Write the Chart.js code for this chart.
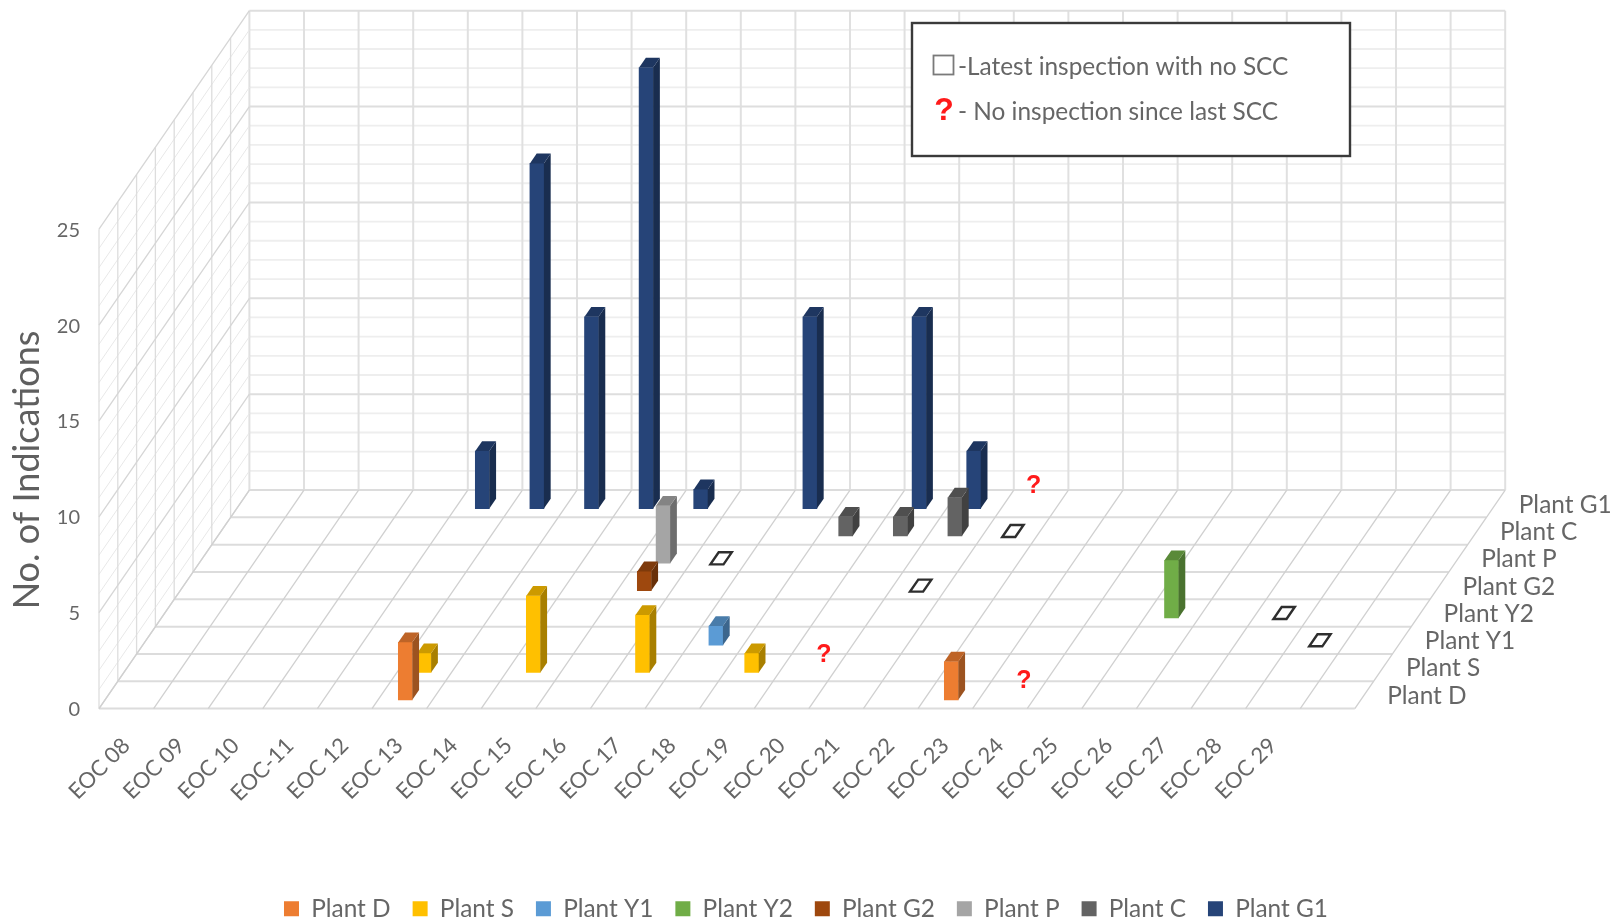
<!DOCTYPE html>
<html>
<head>
<meta charset="utf-8">
<title>Indications by plant and EOC</title>
<script src="https://cdn.jsdelivr.net/npm/chart.js@4"></script>
<style>
  html, body { margin: 0; padding: 0; background: #fff; }
  canvas { display: block; }
</style>
</head>
<body>
<canvas id="chart" width="1612" height="921"></canvas>
<script>
// Refuelling outages along the width of the chart; the last column stays unlabelled.
const categories = ['EOC 08','EOC 09','EOC 10','EOC-11','EOC 12','EOC 13','EOC 14','EOC 15','EOC 16','EOC 17','EOC 18','EOC 19','EOC 20','EOC 21','EOC 22','EOC 23','EOC 24','EOC 25','EOC 26','EOC 27','EOC 28','EOC 29',''];
const plantNames = ['Plant D','Plant S','Plant Y1','Plant Y2','Plant G2','Plant P','Plant C','Plant G1'];
const plantColors = ['#ED7D31','#FFC000','#5B9BD5','#70AD47','#9E480E','#A5A5A5','#636363','#264478'];

// Indications per outage, one array per plant.
const plantD  = [0,0,0,0,0,3,0,0,0,0,0,0,0,0,0,2,0,0,0,0,0,0,0];
const plantS  = [0,0,0,0,0,1,0,4,0,3,0,1,0,0,0,0,0,0,0,0,0,0,0];
const plantY1 = [0,0,0,0,0,0,0,0,0,0,1,0,0,0,0,0,0,0,0,0,0,0,0];
const plantY2 = [0,0,0,0,0,0,0,0,0,0,0,0,0,0,0,0,0,0,3,0,0,0,0];
const plantG2 = [0,0,0,0,0,0,0,0,1,0,0,0,0,0,0,0,0,0,0,0,0,0,0];
const plantP  = [0,0,0,0,0,0,0,0,3,0,0,0,0,0,0,0,0,0,0,0,0,0,0];
const plantC  = [0,0,0,0,0,0,0,0,0,0,0,1,1,2,0,0,0,0,0,0,0,0,0];
const plantG1 = [0,0,0,0,3,18,10,23,1,0,10,0,10,3,0,0,0,0,0,0,0,0,0];
const plantValues = [plantD, plantS, plantY1, plantY2, plantG2, plantP, plantC, plantG1];

// Latest inspection found no SCC: plant row and outage column of each outline.
const cleanRows = [5, 4, 6, 3, 2];
const cleanCols = [9, 13, 14, 20, 21];

// No inspection since the last SCC: plant row and outage column of each mark.
const pendingRows = [7, 1, 0];
const pendingCols = [14, 12, 16];
const pendingShift = [0.035, 0.26, 0.265];
const pendingLift = [0.9, 0.65, 0.7];

const yTicksMax = 25;
const yMax = 36.38;
// Oblique depth: one plant row moves this far in column units and in value units.
const skew = 0.3443;
const rise = 1.4248;
const xMax = categories.length + plantNames.length * skew;
const barFront = 0.32;
const barBack = 0.68;

const inkColor = '#666666';

function shade(hex, factor) {
  const n = parseInt(hex.slice(1), 16);
  const part = s => Math.round(((n >> s) & 255) * factor);
  return `rgb(${part(16)},${part(8)},${part(0)})`;
}

// Map (column, plant row, value) on to the canvas through the two chart scales.
function project(chart, col, row, value) {
  return {
    x: chart.scales.x.getPixelForValue(col + row * skew),
    y: chart.scales.y.getPixelForValue(value + row * rise)
  };
}

function segment(ctx, a, b, color, width) {
  ctx.strokeStyle = color;
  ctx.lineWidth = width;
  ctx.beginPath();
  ctx.moveTo(a.x, a.y);
  ctx.lineTo(b.x, b.y);
  ctx.stroke();
}

function polygon(ctx, pts) {
  ctx.beginPath();
  pts.forEach((p, i) => i ? ctx.lineTo(p.x, p.y) : ctx.moveTo(p.x, p.y));
  ctx.closePath();
}

// Back wall, side wall and floor of the chart box.
const boxGrid = {
  id: 'boxGrid',
  beforeDatasetsDraw(chart) {
    const ctx = chart.ctx;
    const cols = categories.length;
    const rows = plantNames.length;
    const P = (c, r, v) => project(chart, c, r, v);
    ctx.save();

    // back wall
    for (let v = 0; v <= yTicksMax; v++) {
      if (v % 5) segment(ctx, P(0, rows, v), P(cols, rows, v), '#eeeeee', 1.8);
    }
    for (let c = 0; c <= cols; c++) segment(ctx, P(c, rows, 0), P(c, rows, yTicksMax), '#e0e0e0', 2);
    for (let v = 0; v <= yTicksMax; v += 5) segment(ctx, P(0, rows, v), P(cols, rows, v), '#dedede', 2);

    // side wall
    for (let v = 0; v <= yTicksMax; v++) {
      if (v % 5) segment(ctx, P(0, 0, v), P(0, rows, v), '#e8e8e8', 1);
    }
    for (let r = 0; r < rows; r++) segment(ctx, P(0, r, 0), P(0, r, yTicksMax), '#dddddd', 1.3);
    for (let v = 0; v <= yTicksMax; v += 5) segment(ctx, P(0, 0, v), P(0, rows, v), '#d6d6d6', 1.3);

    // floor
    for (let r = 0; r <= rows; r++) segment(ctx, P(0, r, 0), P(cols, r, 0), '#dcdcdc', 2);
    for (let c = 0; c <= cols; c++) segment(ctx, P(c, 0, 0), P(c, rows, 0), '#d0d0d0', 1.3);

    // plant names beside the floor
    ctx.fillStyle = inkColor;
    ctx.font = '24.4px Lato';
    ctx.textAlign = 'left';
    ctx.textBaseline = 'middle';
    plantNames.forEach((name, r) => {
      const p = P(cols, r + 0.5, 0);
      ctx.fillText(name, p.x + 23, p.y + 1);
    });

    // outlines of inspections with nothing found
    cleanRows.forEach((r, i) => {
      const c = cleanCols[i];
      const half = 0.12;
      polygon(ctx, [
        P(c + 0.5 - half, r + barFront - 0.04, 0),
        P(c + 0.5 + half, r + barFront - 0.04, 0),
        P(c + 0.5 + half, r + barBack + 0.04, 0),
        P(c + 0.5 - half, r + barBack + 0.04, 0)
      ]);
      ctx.fillStyle = '#ffffff';
      ctx.fill();
      ctx.strokeStyle = '#2e2e2e';
      ctx.lineWidth = 2.4;
      ctx.stroke();
    });

    // pending-inspection marks
    ctx.fillStyle = '#FF1A1A';
    ctx.font = 'bold 25px "Liberation Sans"';
    ctx.textAlign = 'center';
    pendingRows.forEach((r, i) => {
      const p = P(pendingCols[i] + 0.5 + pendingShift[i], r + 0.5, pendingLift[i]);
      ctx.fillText('?', p.x, p.y);
    });
    ctx.restore();
  },
  // Side and top faces of every bar, painted with the dataset so nearer rows cover farther ones.
  afterDatasetDraw(chart, args) {
    const ctx = chart.ctx;
    const color = chart.data.datasets[args.index].backgroundColor;
    const dx = chart.scales.x.getPixelForValue(skew * (barBack - barFront)) - chart.scales.x.getPixelForValue(0);
    const dy = chart.scales.y.getPixelForValue(rise * (barBack - barFront)) - chart.scales.y.getPixelForValue(0);
    ctx.save();
    args.meta.data.forEach(bar => {
      const left = bar.x - bar.width / 2;
      const right = bar.x + bar.width / 2;
      polygon(ctx, [
        { x: right, y: bar.y }, { x: right + dx, y: bar.y + dy },
        { x: right + dx, y: bar.base + dy }, { x: right, y: bar.base }
      ]);
      ctx.fillStyle = shade(color, 0.66);
      ctx.fill();
      polygon(ctx, [
        { x: left, y: bar.y }, { x: right, y: bar.y },
        { x: right + dx, y: bar.y + dy }, { x: left + dx, y: bar.y + dy }
      ]);
      ctx.fillStyle = shade(color, 0.8);
      ctx.fill();
    });
    ctx.restore();
  },
  afterDraw(chart) {
    const ctx = chart.ctx;
    ctx.save();

    // value axis title
    ctx.save();
    ctx.translate(27, 470);
    ctx.rotate(-Math.PI / 2);
    ctx.fillStyle = '#5f5f5f';
    ctx.font = '36px Lato';
    ctx.textAlign = 'center';
    ctx.textBaseline = 'middle';
    ctx.fillText('No. of Indications', 0, 0);
    ctx.restore();

    // key for the two inspection symbols
    ctx.fillStyle = '#ffffff';
    ctx.fillRect(912, 23, 438, 133);
    ctx.strokeStyle = '#3a3a3a';
    ctx.lineWidth = 2.4;
    ctx.strokeRect(912, 23, 438, 133);
    ctx.strokeStyle = '#7a7a7a';
    ctx.lineWidth = 1.8;
    ctx.strokeRect(933.5, 55.5, 20, 19);
    ctx.fillStyle = inkColor;
    ctx.font = '24.4px Lato';
    ctx.textAlign = 'left';
    ctx.textBaseline = 'middle';
    ctx.fillText('-Latest inspection with no SCC', 958, 67.5);
    ctx.fillText('- No inspection since last SCC', 958, 112.5);
    ctx.fillStyle = '#FF1A1A';
    ctx.font = 'bold 32px "Liberation Sans"';
    ctx.textAlign = 'center';
    ctx.fillText('?', 944, 111);
    ctx.restore();
  }
};

const datasets = plantNames.map((name, r) => ({
  label: name,
  backgroundColor: plantColors[r],
  borderWidth: 0,
  barThickness: 14,
  grouped: false,
  data: plantValues[r].flatMap((v, c) => {
    if (!v) return [];
    const foot = rise * (r + barFront);
    return [{ x: c + 0.5 + skew * (r + barFront), y: [foot, foot + v] }];
  })
}));

new Chart(document.getElementById('chart'), {
  type: 'bar',
  data: { datasets },
  plugins: [boxGrid],
  options: {
    responsive: false,
    animation: false,
    layout: { padding: { top: 11, left: 0, right: 0, bottom: -10 } },
    plugins: {
      tooltip: { enabled: false },
      legend: {
        position: 'bottom',
        labels: {
          boxWidth: 15,
          boxHeight: 15,
          padding: 22,
          color: inkColor,
          font: { family: 'Lato', size: 24.4 }
        }
      }
    },
    scales: {
      x: {
        type: 'linear',
        offset: false,
        min: 0,
        max: xMax,
        bounds: 'data',
        grid: { display: false, drawTicks: false },
        border: { display: false },
        afterBuildTicks(s) { s.ticks = categories.map((_, i) => ({ value: i + 0.5 })); },
        // Room on the right for the plant names; the legend still centres on the full canvas.
        afterFit(s) { s.height = 166; s.paddingLeft = 0; s.paddingRight = 106.8; },
        ticks: {
          autoSkip: false,
          minRotation: 45,
          maxRotation: 45,
          padding: 24,
          labelOffset: 0,
          color: inkColor,
          font: { family: 'Lato', size: 22 },
          callback(value, index) { return categories[index]; }
        }
      },
      y: {
        min: 0,
        max: yMax,
        bounds: 'data',
        grid: { display: false, drawTicks: false },
        border: { display: false },
        afterBuildTicks(s) { s.ticks = s.ticks.filter(t => t.value <= yTicksMax); },
        afterFit(s) { s.width = 99; s.paddingTop = 0; s.paddingBottom = 0; },
        ticks: {
          stepSize: 5,
          padding: 19,
          labelOffset: 1,
          color: inkColor,
          font: { family: 'Lato', size: 20 }
        }
      }
    }
  }
});
</script>
</body>
</html>
